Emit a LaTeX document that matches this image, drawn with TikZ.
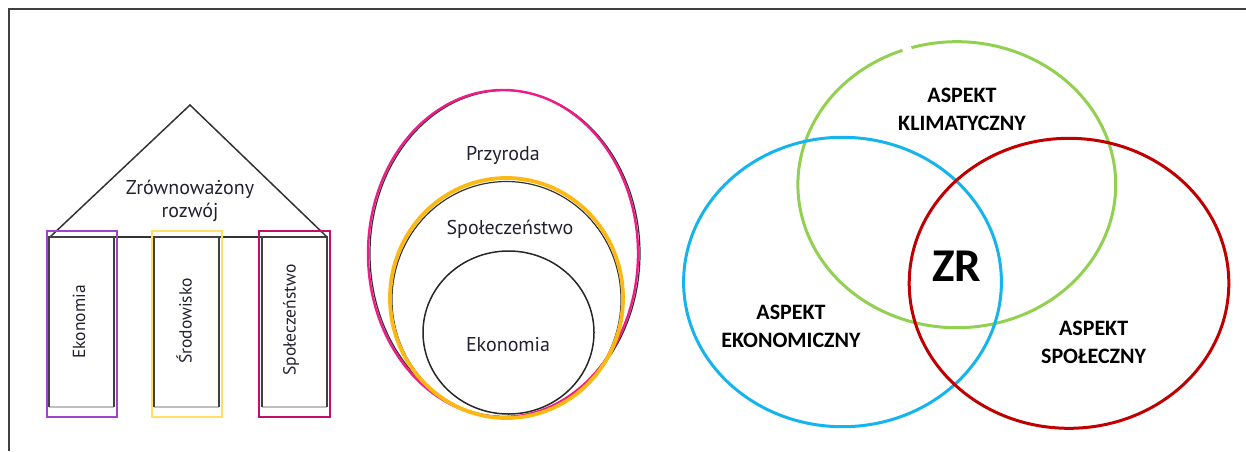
\documentclass[tikz,border=0pt]{standalone}
\usepackage{fontspec}
\setmainfont{PT Sans}
\newfontfamily\vennfont{Carlito}
\definecolor{fr}{HTML}{404040}
\definecolor{pur}{HTML}{A044CC}
\definecolor{yel}{HTML}{FFE066}
\definecolor{mag}{HTML}{C0106A}
\definecolor{pnk}{HTML}{EE1C86}
\definecolor{org}{HTML}{FCB813}
\definecolor{grn}{HTML}{92D050}
\definecolor{blu}{HTML}{16B4EC}
\definecolor{rd}{HTML}{C00000}
\definecolor{txt}{HTML}{232030}
\begin{document}
\begin{tikzpicture}[x=1pt,y=-1pt,
  lbl/.style={font=\fontsize{20}{22.5}\selectfont, text=txt, inner sep=0pt, align=center},
  plbl/.style={font=\fontsize{17.5}{20}\selectfont, text=txt, inner sep=0pt, rotate=90},
  vlbl/.style={font=\vennfont\bfseries\fontsize{22}{28}\selectfont, inner sep=0pt, align=center},
  pillarout/.style={line width=2pt},
  pillarin/.style={draw=black!75, line width=1.3pt},
  roof/.style={draw=black!80, line width=1.5pt},
  vring/.style={line width=3pt}]
\useasboundingbox (0,0) rectangle (1246,451);
% frame
\draw[fr, line width=1.2pt] (9,451) -- (9,9) -- (1246,9);
% ---------- house ----------
\coordinate (rl) at (50,237);
\coordinate (rr) at (327,237);
\coordinate (apex) at (190,105);
\draw[roof] (rl) -- (apex) -- (rr);
\draw[roof] (rl) -- (rr);
% pillars
\foreach \xa/\xb/\xo/\xp/\col in {49/114/46.7/117.3/pur, 154/219/151.7/221.7/yel, 262/327/259/330/mag}{
  \draw[black!25, line width=1.3pt] (\xa,407) -- (\xb,407);
  \draw[pillarin] (\xa,407) -- (\xa,237) -- (\xb,237) -- (\xb,407);
  \draw[\col, pillarout] (\xo,231) rectangle (\xp,417);
}
\node[lbl] (zr) at (190,201) {Zrównoważony\\rozwój};
\node[plbl] (p1) at (79,322) {Ekonomia};
\node[plbl] (p2) at (184,321) {Środowisko};
\node[plbl] (p3) at (291,320) {Społeczeństwo};
% ---------- nested ellipses ----------
\draw[black!80, line width=1.2pt] (505,253.5) ellipse[x radius=135, y radius=163];
\draw[pnk, line width=2.4pt] (503,253.5) ellipse[x radius=135, y radius=163.5];
\draw[black!80, line width=1.2pt] (506.5,299.5) ellipse[x radius=114.5, y radius=118];
\draw[org, line width=3.8pt] (506.5,298) ellipse[x radius=116.5, y radius=120];
\draw[black!85, line width=1.5pt] (508.5,332.5) ellipse[x radius=85.5, y radius=81.5];
\node[lbl] (n1) at (503,155) {Przyroda};
\node[lbl] (n2) at (510,229) {Społeczeństwo};
\node[lbl] (n3) at (508,345) {Ekonomia};
% ---------- Venn ----------
\coordinate (cg) at (956.8,184.7);
\draw[grn, vring] (cg) ++(253.4:158.9 and 143) arc[start angle=253.4, end angle=610, x radius=158.9, y radius=143];
\draw[blu, vring] (842.5,282) ellipse[x radius=158.9, y radius=144.7];
\draw[rd, vring] (1069,283.3) ellipse[x radius=159.8, y radius=145];
\node[vlbl] (vk) at (962,109) {ASPEKT\\KLIMATYCZNY};
\node[vlbl] (ve) at (791,326) {ASPEKT\\EKONOMICZNY};
\node[vlbl] (vs) at (1093.6,342.5) {ASPEKT\\SPOŁECZNY};
\node[font=\vennfont\bfseries\fontsize{47}{47}\selectfont, inner sep=0pt] (zrv) at (956.7,266) {ZR};
\end{tikzpicture}
\end{document}
